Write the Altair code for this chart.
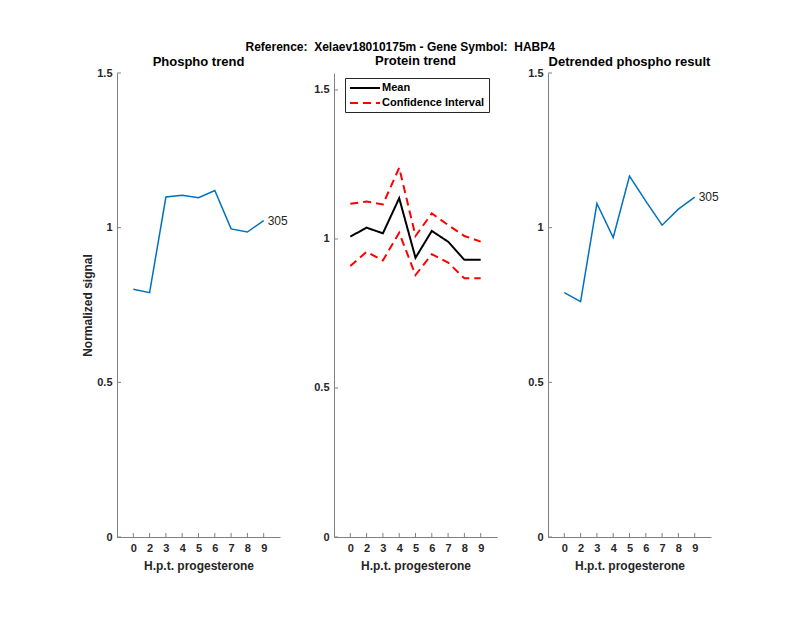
import altair as alt
import pandas as pd

x_labels = ["0", "2", "3", "4", "5", "6", "7", "8", "9"]
phospho = [0.801, 0.790, 1.099, 1.105, 1.097, 1.120, 0.996, 0.986, 1.023]
mean = [1.008, 1.038, 1.019, 1.137, 0.937, 1.027, 0.991, 0.930, 0.930]
upper = [1.118, 1.126, 1.116, 1.239, 1.010, 1.086, 1.047, 1.010, 0.991]
lower = [0.909, 0.957, 0.928, 1.021, 0.879, 0.949, 0.921, 0.868, 0.868]
detrended = [0.790, 0.761, 1.078, 0.968, 1.167, 1.086, 1.008, 1.060, 1.099]
peptide_label = "305"
y_ticks = [0, 0.5, 1, 1.5]
y_max_side = 1.5
y_max_mid = 1.557

FONT = "Liberation Sans"
AX = "#808080"
W, H = 163, 464

idx = list(range(1, len(x_labels) + 1))
label_expr = "[" + ",".join(f"'{l}'" for l in x_labels) + "][datum.value-1]"
XDOM = [0, len(x_labels) + 1]


def xenc():
    return alt.X(
        "i:Q",
        scale=alt.Scale(domain=XDOM, nice=False, zero=False),
        axis=alt.Axis(values=idx, labelExpr=label_expr, labelOverlap=False,
                      title="H.p.t. progesterone", titlePadding=7),
    )


def yenc(ymax, title=None, min_extent=None):
    ax = dict(values=y_ticks, format="~g", title=title, labelOverlap=False)
    if min_extent is not None:
        ax["minExtent"] = min_extent
    return alt.Y("v:Q", scale=alt.Scale(domain=[0, ymax], nice=False, zero=True), axis=alt.Axis(**ax))


def tick_layers(ymax, title=None, min_extent=None):
    xt = alt.Chart(pd.DataFrame({"i": idx})).mark_rule(color=AX, strokeWidth=1).encode(
        x=xenc(), y=alt.value(H), y2=alt.value(H - 4))
    yt = alt.Chart(pd.DataFrame({"v": y_ticks})).mark_rule(color=AX, strokeWidth=1).encode(
        y=yenc(ymax, title, min_extent), x=alt.value(0), x2=alt.value(4))
    return [xt, yt]


def side_panel(values, title, ytitle, min_extent=None):
    df = pd.DataFrame({"i": idx, "v": values})
    line = alt.Chart(df).mark_line(color="#0072BD", strokeWidth=1.5).encode(
        x=xenc(), y=yenc(y_max_side, ytitle, min_extent))
    lab = alt.Chart(pd.DataFrame({"i": [idx[-1]], "v": [values[-1]], "t": [peptide_label]})).mark_text(
        align="left", baseline="middle", dx=4, font=FONT, fontSize=12, color="#262626").encode(
        x=xenc(), y=yenc(y_max_side, ytitle, min_extent), text="t:N")
    return alt.layer(line, lab, *tick_layers(y_max_side, ytitle, min_extent)).properties(
        width=W, height=H,
        title=alt.TitleParams(title, offset=-2))


rows = []
for i, m in zip(idx, mean):
    rows.append({"i": i, "v": m, "series": "Mean", "line": "mean"})
for i, u in zip(idx, upper):
    rows.append({"i": i, "v": u, "series": "Confidence Interval", "line": "upper"})
for i, l in zip(idx, lower):
    rows.append({"i": i, "v": l, "series": "Confidence Interval", "line": "lower"})
mid_df = pd.DataFrame(rows)

leg = dict(title=None, orient="none", legendX=228, legendY=5, symbolType="M-1,0H5",
           symbolSize=100, symbolStrokeWidth=2, labelFont=FONT, labelFontSize=11,
           labelFontWeight="bold", labelColor="#000000", strokeColor="#262626",
           fillColor="white", padding=4, rowPadding=4, labelOffset=21)
series_dom = ["Mean", "Confidence Interval"]
mid_line = alt.Chart(mid_df).mark_line(strokeWidth=2).encode(
    x=xenc(), y=yenc(y_max_mid),
    color=alt.Color("series:N", scale=alt.Scale(domain=series_dom, range=["#000000", "#FF0000"]),
                    legend=alt.Legend(**leg)),
    strokeDash=alt.StrokeDash("series:N", scale=alt.Scale(domain=series_dom, range=[[1, 0], [8, 5]]),
                              legend=alt.Legend(**leg)),
    detail="line:N",
)
mid = alt.layer(mid_line, *tick_layers(y_max_mid)).properties(
    width=W, height=H, title=alt.TitleParams("Protein trend", offset=5))

p1 = side_panel(phospho, "Phospho trend", "Normalized signal")
p3 = side_panel(detrended, "Detrended phospho result", None, min_extent=26)

chart = alt.hconcat(p1, mid, p3, spacing=25).properties(
    title=alt.TitleParams("Reference:\u00a0 Xelaev18010175m - Gene Symbol:\u00a0 HABP4", anchor="middle",
                          font=FONT, fontSize=12, fontWeight="bold", color="#000000", offset=1),
    padding={"left": 73, "top": 33, "right": 10, "bottom": 10},
).configure_view(stroke=None).configure_axis(
    grid=False, ticks=False, domainColor=AX, domainWidth=1, labelOverlap=False,
    labelFont=FONT, labelFontSize=11, labelFontWeight="bold", labelColor="#262626", labelPadding=5,
    titleFont=FONT, titleFontSize=12, titleFontWeight="bold", titleColor="#262626", titlePadding=2,
).configure_title(
    font=FONT, fontSize=13, fontWeight="bold", color="#000000",
)

chart.save("out.html", embed_options={"renderer": "svg", "actions": False})
